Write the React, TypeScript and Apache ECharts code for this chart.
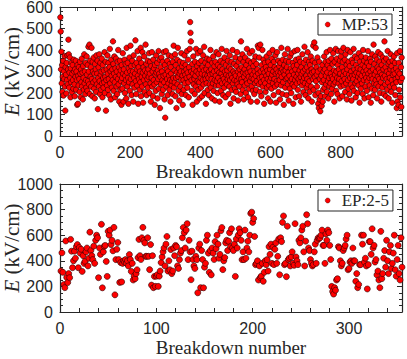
import React, { useEffect, useRef } from "react";
import * as echarts from "echarts";

// Top panel: MP:53 breakdown fields (kV/cm), breakdown number = index + 1
const mpE: number[] = [
  552, 486, 310, 392, 245, 330, 205, 275, 350, 188, 300, 265, 372, 230, 118, 320, 285, 198, 340, 260, 375, 240, 310, 448, 380,
  225, 295, 365, 270, 180, 315, 250, 340, 205, 290, 330, 260, 220, 355, 300, 240, 185, 310, 275, 350, 215, 300, 260, 145, 330,
  150, 280, 235, 320, 265, 205, 345, 290, 180, 310, 250, 360, 230, 295, 170, 325, 270, 215, 380, 245, 300, 195, 340, 260, 225,
  370, 285, 210, 330, 255, 415, 300, 240, 425, 195, 350, 275, 320, 230, 410, 265, 185, 345, 300, 250, 365, 220, 290, 175, 335,
  260, 310, 205, 375, 240, 290, 350, 125, 270, 320, 230, 380, 255, 195, 340, 285, 215, 300, 360, 245, 180, 330, 270, 225, 305,
  250, 390, 200, 275, 345, 118, 260, 310, 235, 375, 290, 215, 340, 265, 190, 320, 405, 245, 300, 170, 355, 280, 225, 310, 260,
  440, 335, 210, 290, 370, 250, 180, 315, 275, 360, 230, 300, 195, 345, 265, 400, 240, 320, 160, 285, 350, 215, 305, 255, 145,
  330, 270, 220, 385, 290, 160, 310, 245, 355, 200, 280, 335, 260, 175, 410, 295, 230, 340, 270, 150, 315, 250, 365, 210, 300,
  420, 265, 325, 190, 285, 350, 240, 300, 160, 375, 270, 225, 330, 290, 445, 255, 195, 340, 310, 235, 395, 280, 150, 320, 265,
  360, 215, 300, 250, 410, 185, 340, 275, 230, 390, 295, 155, 320, 260, 370, 205, 305, 280, 425, 240, 335, 190, 295, 265, 350,
  225, 310, 275, 385, 200, 290, 345, 245, 160, 325, 270, 390, 230, 300, 185, 355, 260, 315, 240, 145, 330, 285, 210, 375, 295,
  250, 340, 175, 305, 265, 395, 220, 290, 355, 130, 275, 320, 240, 365, 195, 300, 260, 345, 215, 280, 390, 250, 170, 330, 85,
  285, 395, 230, 310, 265, 350, 190, 300, 245, 375, 280, 215, 335, 260, 160, 320, 290, 235, 370, 255, 195, 345, 270, 420, 225,
  305, 250, 380, 185, 330, 270, 130, 295, 355, 240, 410, 275, 210, 315, 165, 290, 345, 230, 300, 260, 385, 195, 325, 280, 145,
  340, 260, 215, 300, 375, 245, 285, 330, 190, 310, 270, 395, 225, 295, 355, 250, 180, 320, 275, 405, 530, 480, 440, 300, 260,
  210, 335, 145, 290, 370, 240, 310, 265, 195, 345, 280, 230, 405, 300, 160, 325, 255, 385, 215, 290, 340, 250, 175, 310, 395,
  270, 225, 350, 290, 185, 320, 260, 375, 240, 305, 415, 200, 285, 340, 265, 150, 310, 245, 360, 280, 215, 330, 270, 190, 300,
  355, 240, 285, 400, 225, 310, 265, 175, 340, 290, 245, 370, 210, 300, 325, 260, 165, 345, 280, 235, 390, 255, 305, 200, 330,
  270, 380, 235, 295, 160, 320, 255, 350, 210, 290, 405, 245, 310, 275, 190, 340, 265, 225, 365, 300, 250, 180, 330, 285, 395,
  240, 305, 265, 350, 195, 280, 320, 230, 375, 260, 150, 310, 285, 345, 215, 270, 400, 245, 300, 175, 335, 260, 290, 220, 365,
  280, 205, 325, 255, 390, 240, 300, 165, 345, 270, 230, 310, 285, 360, 195, 440, 265, 320, 250, 380, 215, 295, 345, 170, 275,
  310, 235, 365, 290, 200, 330, 260, 405, 245, 295, 180, 350, 275, 220, 315, 385, 255, 300, 160, 340, 270, 230, 395, 285, 210,
  325, 265, 350, 195, 300, 245, 370, 280, 215, 335, 255, 160, 310, 420, 290, 410, 240, 365, 270, 205, 425, 300, 250, 185, 330,
  275, 400, 230, 310, 355, 260, 150, 295, 340, 245, 205, 320, 280, 370, 225, 305, 265, 175, 345, 290, 235, 385, 255, 310, 160,
  330, 270, 220, 360, 285, 400, 245, 300, 190, 345, 265, 320, 230, 375, 290, 155, 310, 255, 390, 240, 295, 350, 205, 280, 325,
  260, 170, 340, 295, 235, 410, 275, 310, 195, 355, 250, 300, 145, 330, 285, 380, 225, 305, 265, 350, 190, 320, 270, 405, 240,
  295, 165, 345, 280, 220, 370, 255, 315, 200, 385, 265, 300, 240, 340, 150, 325, 285, 230, 395, 260, 310, 180, 355, 275, 245,
  330, 400, 215, 290, 265, 360, 185, 305, 250, 345, 275, 160, 320, 290, 235, 380, 255, 300, 205, 340, 270, 415, 245, 310, 190,
  355, 280, 225, 320, 265, 390, 240, 175, 300, 345, 255, 205, 330, 285, 370, 230, 310, 160, 295, 350, 265, 420, 215, 300, 435,
  275, 340, 190, 410, 255, 320, 285, 230, 365, 300, 150, 200, 130, 345, 170, 265, 115, 310, 185, 280, 140, 250, 330, 160, 215,
  300, 260, 370, 225, 310, 185, 345, 280, 240, 390, 205, 295, 330, 255, 175, 350, 270, 230, 315, 400, 245, 290, 195, 360, 275,
  220, 335, 265, 385, 240, 305, 160, 345, 285, 250, 405, 210, 300, 360, 270, 195, 330, 395, 245, 310, 265, 175, 350, 290, 230,
  370, 395, 255, 320, 185, 345, 280, 410, 235, 300, 265, 355, 205, 380, 290, 245, 330, 170, 310, 400, 260, 220, 345, 285, 195,
  325, 270, 390, 240, 300, 165, 355, 280, 225, 340, 265, 405, 210, 310, 285, 370, 245, 180, 330, 295, 255, 360, 200, 315, 275,
  235, 385, 290, 155, 345, 265, 310, 220, 370, 280, 245, 330, 195, 400, 300, 260, 350, 175, 320, 285, 230, 365, 270, 305, 210,
  340, 255, 395, 290, 180, 325, 270, 235, 360, 300, 155, 345, 280, 220, 380, 265, 310, 190, 425, 245, 335, 285, 215, 370, 260,
  300, 240, 355, 175, 320, 275, 390, 230, 310, 265, 345, 200, 295, 380, 250, 160, 330, 285, 225, 365, 270, 310, 195, 350, 440,
  280, 240, 320, 185, 360, 265, 300, 215, 395, 250, 335, 175, 290, 345, 270, 230, 310, 380, 205, 325, 260, 155, 350, 285, 240,
  305, 370, 225, 290, 340, 190, 265, 315, 250, 130, 385, 160, 300, 275, 145, 340, 215, 290, 395, 180, 255, 320, 135, 365, 270,
];

// Bottom panel: EP:2-5 breakdown fields (kV/cm)
const epE: number[] = [
  320, 462, 310, 215, 190, 555, 270, 230, 300, 268, 567, 475, 346, 400, 475, 420, 510, 527, 346, 504, 460, 490, 317, 440, 380,
  396, 470, 500, 360, 420, 624, 480, 440, 409, 514, 380, 560, 600, 580, 268, 500, 450, 685, 189, 470, 514, 520, 395, 278, 630,
  600, 640, 527, 560, 478, 661, 134, 409, 490, 543, 410, 231, 386, 235, 380, 400, 390, 410, 380, 400, 360, 449, 410, 317, 380,
  250, 280, 260, 300, 330, 425, 567, 440, 410, 580, 661, 560, 540, 435, 435, 580, 435, 331, 527, 210, 440, 190, 278, 200, 280,
  291, 200, 280, 320, 386, 430, 470, 500, 360, 530, 590, 320, 400, 330, 488, 300, 320, 500, 440, 520, 510, 360, 340, 409, 460,
  480, 580, 660, 620, 500, 640, 690, 409, 560, 470, 252, 475, 410, 360, 340, 435, 409, 150, 500, 530, 190, 480, 410, 189, 350,
  380, 560, 600, 460, 310, 480, 290, 500, 460, 410, 550, 495, 600, 530, 420, 450, 635, 660, 331, 400, 425, 540, 560, 480, 553,
  620, 510, 650, 500, 480, 530, 278, 570, 500, 600, 650, 620, 560, 409, 470, 409, 640, 420, 500, 553, 470, 600, 770, 780, 700,
  730, 590, 370, 380, 400, 250, 360, 270, 280, 380, 240, 310, 400, 370, 409, 320, 510, 450, 530, 380, 505, 370, 490, 540, 380,
  435, 570, 291, 580, 550, 700, 750, 370, 380, 276, 670, 410, 420, 360, 430, 470, 380, 365, 690, 430, 400, 370, 560, 540, 580,
  640, 670, 470, 360, 553, 760, 690, 500, 480, 410, 380, 360, 370, 470, 530, 380, 560, 580, 575, 580, 600, 640, 520, 520, 380,
  610, 560, 640, 620, 520, 410, 200, 160, 140, 190, 170, 250, 260, 510, 500, 400, 360, 380, 480, 500, 520, 570, 600, 330, 340,
  390, 400, 380, 500, 400, 400, 240, 300, 190, 215, 370, 370, 600, 530, 600, 390, 420, 360, 180, 370, 550, 550, 450, 650, 500,
  520, 390, 410, 290, 320, 250, 190, 630, 260, 300, 420, 480, 350, 560, 400, 300, 470, 520, 340, 380, 460, 600, 330, 280, 410,
  520, 300, 250, 580, 350,
];

const mpName = "MP:53";
const epName = "EP:2-5";
const yName = "{i|E} (kV/cm)";
const xName = "Breakdown number";

const INK = "#262626";
const SERIF = "Liberation Serif";
const SANS = "Liberation Sans";

function xAx(grid: number, max: number, step: number, labelEvery: number, top: boolean) {
  return {
    gridIndex: grid,
    type: "value",
    position: top ? "top" : "bottom",
    min: 0,
    max,
    interval: step,
    axisLine: { show: true, onZero: false, lineStyle: { color: INK, width: 1.2 } },
    axisTick: { show: true, inside: true, length: 4, lineStyle: { color: INK, width: 1 } },
    splitLine: { show: false },
    axisLabel: {
      show: !top,
      interval: 0,
      margin: 8,
      color: INK,
      fontFamily: SANS,
      fontSize: 16,
      formatter: (v: number) => (v % labelEvery === 0 ? String(v) : ""),
    },
    name: top ? "" : xName,
    nameLocation: "middle",
    nameGap: 26,
    nameMoveOverlap: false,
    nameTextStyle: { color: INK, fontFamily: SERIF, fontSize: 19 },
  };
}

function yAx(grid: number, max: number, step: number, minorSplit: number, right: boolean) {
  return {
    gridIndex: grid,
    type: "value",
    position: right ? "right" : "left",
    min: 0,
    max,
    interval: step,
    axisLine: { show: true, onZero: false, lineStyle: { color: INK, width: 1.2 } },
    axisTick: { show: true, inside: true, length: 5, lineStyle: { color: INK, width: 1 } },
    minorTick: { show: true, splitNumber: minorSplit, length: 3, lineStyle: { color: INK, width: 1 } },
    splitLine: { show: false },
    minorSplitLine: { show: false },
    axisLabel: {
      show: !right,
      margin: 7,
      color: INK,
      fontFamily: SANS,
      fontSize: 16,
      formatter: (v: number) => String(v),
    },
    name: right ? "" : yName,
    nameLocation: "middle",
    nameGap: 38,
    nameMoveOverlap: false,
    nameTextStyle: {
      color: INK,
      fontFamily: SERIF,
      fontSize: 21,
      rich: { i: { fontStyle: "italic", fontFamily: SERIF, fontSize: 21, color: INK } },
    },
  };
}

function legendFor(name: string, top: number) {
  return {
    data: [name],
    left: 318,
    top,
    orient: "horizontal",
    padding: [2, 4, 2, 7],
    itemWidth: 18,
    itemHeight: 5,
    itemStyle: { borderWidth: 0.4 },
    borderColor: INK,
    borderWidth: 1,
    borderRadius: 0,
    backgroundColor: "#ffffff",
    textStyle: { color: INK, fontFamily: SERIF, fontSize: 17 },
  };
}

const markStyle = { color: "#ff0000", borderColor: "#2a0000", borderWidth: 0.6, opacity: 1 };

export default function App() {
  const ref = useRef<HTMLDivElement>(null);
  useEffect(() => {
    if (!ref.current) return;
    const chart = echarts.init(ref.current, undefined, { renderer: "svg" });
    chart.setOption({
      animation: false,
      backgroundColor: "#ffffff",
      grid: [
        { left: 60, top: 7, width: 342, height: 129, containLabel: false, outerBoundsMode: "none" },
        { left: 60, top: 184, width: 342, height: 128, containLabel: false, outerBoundsMode: "none" },
      ],
      xAxis: [
        xAx(0, 975, 50, 200, false),
        xAx(0, 975, 50, 200, true),
        xAx(1, 355, 20, 100, false),
        xAx(1, 355, 20, 100, true),
      ],
      yAxis: [
        yAx(0, 600, 100, 5, false),
        yAx(0, 600, 100, 5, true),
        yAx(1, 1000, 200, 4, false),
        yAx(1, 1000, 200, 4, true),
      ],
      legend: [legendFor(mpName, 14), legendFor(epName, 190)],
      series: [
        {
          name: mpName,
          type: "scatter",
          xAxisIndex: 0,
          yAxisIndex: 0,
          symbol: "circle",
          symbolSize: 5.5,
          itemStyle: markStyle,
          data: mpE.map((v, i) => [i + 1, v]),
        },
        {
          name: epName,
          type: "scatter",
          xAxisIndex: 2,
          yAxisIndex: 2,
          symbol: "circle",
          symbolSize: 6,
          itemStyle: markStyle,
          data: epE.map((v, i) => [i + 1, v]),
        },
      ],
    });
    return () => chart.dispose();
  }, []);
  return (
    <div
      ref={ref}
      style={{ position: "fixed", left: 0, top: 0, width: 407, height: 359, background: "#fff" }}
    />
  );
}
